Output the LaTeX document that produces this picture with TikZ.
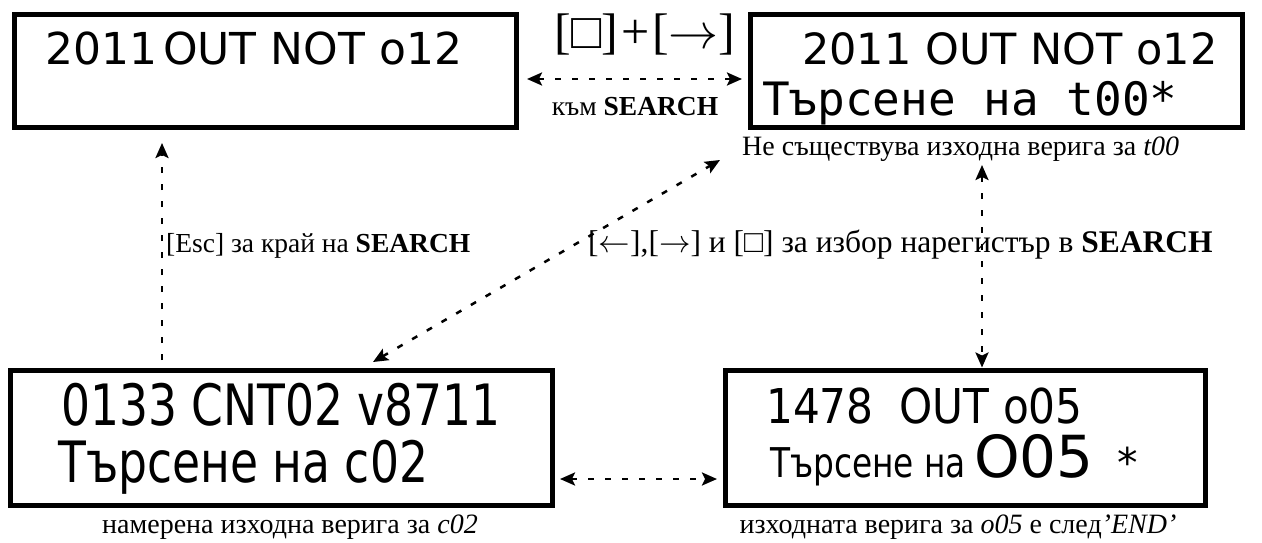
\documentclass[tikz,border=0pt]{standalone}
\usepackage{fix-cm}
\usepackage{fontspec}
\setmainfont{Liberation Serif}
\newfontfamily\lcdfont{DejaVu Sans}
\newfontfamily\lcdmono{DejaVu Sans Mono}
\newfontfamily\lcdnarrow[FakeStretch=0.8]{DejaVu Sans}
\newfontfamily\lcdslim[FakeStretch=0.88]{DejaVu Sans}
\usetikzlibrary{arrows.meta}

\begin{document}
\begin{tikzpicture}[x=1pt,y=-1pt,
    lcdbox/.style={draw=black, line width=5pt, inner sep=0pt, outer sep=2.5pt},
    lcdline/.style={anchor=base west, inner sep=0pt},
    note/.style={inner sep=0pt, font=\fontsize{28pt}{30pt}\selectfont},
    link/.style={line width=2.5pt, dash pattern=on 6pt off 11pt, -{Stealth[length=15pt,width=13pt,inset=3pt]}},
    duplex/.style={link, {Stealth[length=15pt,width=13pt,inset=3pt]}-{Stealth[length=15pt,width=13pt,inset=3pt]}}]
  \useasboundingbox (0,0) rectangle (1262,543);
  \node[lcdbox, minimum width=502pt, minimum height=113pt] (display) at (265.5,71) {};
  \node[lcdbox, minimum width=492pt, minimum height=113pt] (search) at (996,71) {};
  \node[lcdbox, minimum width=542pt, minimum height=135pt] (counter) at (281,437.5) {};
  \node[lcdbox, minimum width=480pt, minimum height=135pt] (output) at (965,437.5) {};
  \node[lcdline, font=\lcdfont\fontsize{44pt}{48pt}\selectfont] (displayrow) at (45,65) {2011\hspace{6pt}OUT NOT o12};
  \node[lcdline, font=\lcdfont\fontsize{43pt}{48pt}\selectfont] (searchrow) at (802,65) {2011 OUT NOT o12};
  \node[lcdline, font=\lcdmono\fontsize{46pt}{50pt}\selectfont] (searchtarget) at (762,115) {Търсене на t00*};
  \node[lcdline, font=\lcdnarrow\fontsize{57pt}{60pt}\selectfont] (counterrow) at (61,425) {0133 CNT02 v8711};
  \node[lcdline, font=\lcdnarrow\fontsize{57pt}{60pt}\selectfont] (countertarget) at (58,482) {Търсене на c02};
  \node[lcdline, font=\lcdslim\fontsize{48pt}{52pt}\selectfont] (outputrow) at (766,423) {1478\hspace{26pt}OUT o05};
  \node[lcdline, font=\lcdnarrow\fontsize{41pt}{44pt}\selectfont] (outputtarget) at (770,477) {Търсене на\hspace{8pt}{\lcdfont\fontsize{58pt}{60pt}\selectfont O05}\hspace{24pt}{\lcdfont *}};
  \node[note, font=\fontsize{50pt}{52pt}\selectfont, anchor=base] (keys) at (645,49) {[□]\hspace{3pt}+\hspace{3pt}[$\rightarrow$]};
  \node[note, font=\fontsize{27.5pt}{30pt}\selectfont, anchor=base] (tosearch) at (635,115) {към \textbf{SEARCH}};
  \node[note, anchor=base west] (nooutput) at (742,155) {Не съществува изходна верига за \textit{t00}};
  \node[note, font=\fontsize{27.5pt}{30pt}\selectfont, anchor=base west] (escnote) at (166,252) {[Esc] за край на \textbf{SEARCH}};
  \node[note, font=\fontsize{31.5pt}{34pt}\selectfont, anchor=base west] (choosenote) at (588,252) {[$\leftarrow$],[$\rightarrow$] и [□] за избор нарегистър в \textbf{SEARCH}};
  \node[note, anchor=base] (foundnote) at (290,533) {намерена изходна верига за \textit{c02}};
  \node[note, anchor=base] (afterend) at (958,533) {изходната верига за \textit{o05} е след\textit{’END’}};
  \draw[duplex] ([xshift=8pt,yshift=-8pt]display.east) -- ([xshift=-5.5pt,yshift=-8pt]search.west);
  \draw[link] ([xshift=-119pt,yshift=7.5pt]counter.north) -- ([xshift=-103.5pt,yshift=-13pt]display.south);
  \draw[duplex] ([xshift=92pt,yshift=5.5pt]counter.north) -- ([xshift=-27.5pt,yshift=-30pt]search.south west);
  \draw[duplex] ([xshift=-14pt,yshift=-35pt]search.south) -- ([xshift=17pt]output.north);
  \draw[duplex] ([xshift=5.5pt,yshift=-41.5pt]counter.east) -- ([xshift=-5.5pt,yshift=-41.5pt]output.west);
\end{tikzpicture}
\end{document}
